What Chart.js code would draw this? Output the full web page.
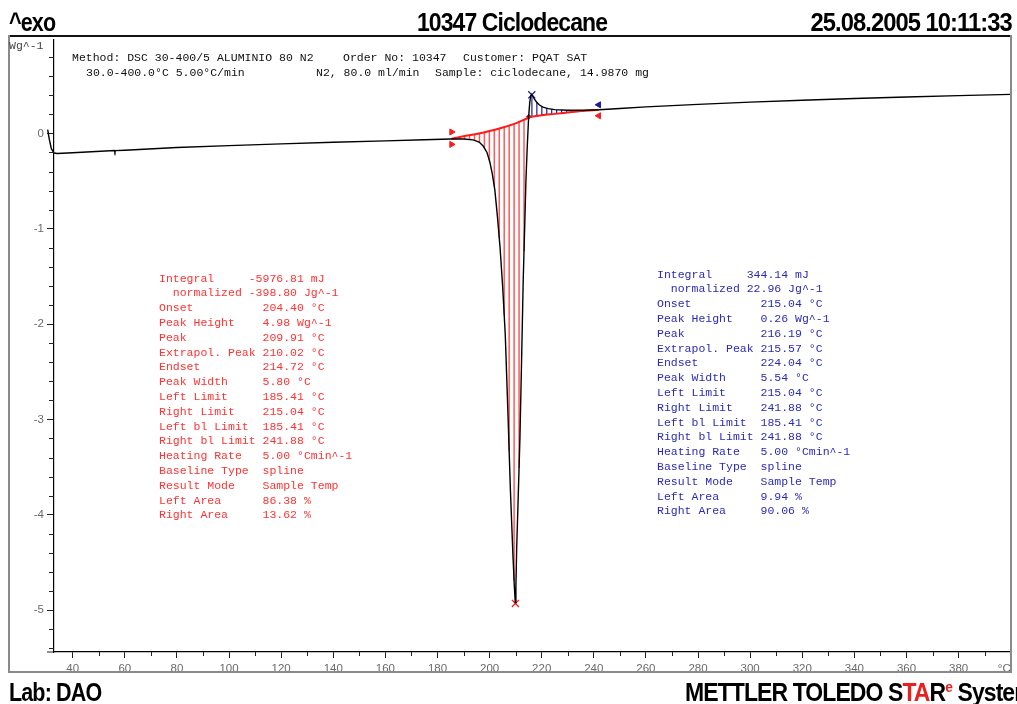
<!DOCTYPE html>
<html>
<head>
<meta charset="utf-8">
<title>10347 Ciclodecane</title>
<script src="https://cdn.jsdelivr.net/npm/chart.js@4.4.1/dist/chart.umd.min.js"></script>
<style>
  body { margin: 0; background: #fff; width: 1017px; height: 704px; overflow: hidden; position: relative; font-family: "Liberation Sans", Arial, sans-serif; }
  #dsc { position: absolute; left: 0; top: 0; }
  .big { position: absolute; font-weight: bold; font-size: 25px; line-height: 25px; letter-spacing: -1px; white-space: nowrap; color: #000; }
  .mono { position: absolute; font-family: "Liberation Mono", "Courier New", monospace; font-size: 11.5px; line-height: 15px; white-space: pre; color: #111; }
  .res { line-height: 14.8px; }
  .line { position: absolute; }
</style>
</head>
<body>
<canvas id="dsc" width="1017" height="704"></canvas>

<!-- cadre -->
<div class="line" style="left:8px; top:35px; width:1004px; height:2px; background:#111;"></div>
<div class="line" style="left:8px; top:35px; width:2px; height:638px; background:#8a8a8a;"></div>
<div class="line" style="left:8px; top:671px; width:1004px; height:2px; background:#8a8a8a;"></div>
<div class="line" style="left:1010px; top:35px; width:2px; height:638px; background:#8a8a8a;"></div>

<!-- en-tete -->
<div class="big" style="left:9px; top:10px; transform:scaleX(0.86); transform-origin:left;">^exo</div>
<div class="big" style="left:512px; top:10px; transform:translateX(-50%) scaleX(0.92);">10347 Ciclodecane</div>
<div class="big" style="right:5px; top:10px; transform:scaleX(0.95); transform-origin:right;">25.08.2005 10:11:33</div>
<div class="mono" style="left:9px; top:38px; color:#444;">Wg^-1</div>

<div class="mono" style="left:72px; top:50px;">Method: DSC 30-400/5 ALUMINIO 80 N2</div>
<div class="mono" style="left:343px; top:50px;">Order No: 10347</div>
<div class="mono" style="left:463px; top:50px;">Customer: PQAT SAT</div>
<div class="mono" style="left:86px; top:65px;">30.0-400.0°C 5.00°C/min</div>
<div class="mono" style="left:316px; top:65px;">N2, 80.0 ml/min</div>
<div class="mono" style="left:435px; top:65px;">Sample: ciclodecane, 14.9870 mg</div>

<!-- resultats -->
<div id="redBox" class="mono res" style="left:159px; top:271.6px; color:#ff3333;"></div>
<div id="blueBox" class="mono res" style="left:657px; top:267.6px; color:#2b2bb8;"></div>

<!-- pied de page -->
<div class="big" style="left:9px; top:680px; transform:scaleX(0.86); transform-origin:left;">Lab: DAO</div>
<div class="big" style="left:685px; top:680px; transform:scaleX(0.92); transform-origin:left;">METTLER TOLEDO S<span style="color:#e8201e">TA</span>R<sup style="color:#e8201e; font-size:15px; line-height:0;">e</sup> System</div>

<script>
// Debut de la mesure (crochet a gauche de l'axe), du plus chaud au plus froid
const startT = [32.82, 31.8, 31.0, 30.4];
const startV = [-0.205, -0.16, -0.06, 0.04];

// Courbe DSC (temperature en °C, flux en Wg^-1)
const temps = [32.82, 34, 40, 56.0, 56.2, 56.4, 60, 80, 100, 120, 140, 160, 175, 185, 190,
  193.7, 196, 197.6, 199, 200.1, 201, 202, 203, 204, 205, 206, 207, 208, 209, 209.5, 209.85,
  210.1, 210.4, 211, 211.65, 212.3, 212.9, 213.5, 213.95, 214.45, 215.0, 215.4, 215.75, 216.15,
  216.6, 217.2, 218, 219, 220.5, 222.5, 225, 230, 236, 242, 250, 260, 280, 300, 320, 340, 360, 380, 400];
const heatFlow = [-0.205, -0.21, -0.203, -0.18, -0.195, -0.18, -0.176, -0.148, -0.128, -0.11, -0.093, -0.078, -0.067, -0.058, -0.058,
  -0.068, -0.09, -0.135, -0.2, -0.3, -0.42, -0.59, -0.87, -1.19, -1.6, -2.1, -2.9, -3.75, -4.45, -4.75, -4.92,
  -4.75, -4.35, -3.8, -3.19, -2.35, -1.54, -0.95, -0.49, -0.14, 0.18, 0.32, 0.39, 0.41,
  0.39, 0.36, 0.33, 0.3, 0.275, 0.26, 0.25, 0.243, 0.243, 0.248, 0.262, 0.278, 0.305, 0.328, 0.348, 0.366, 0.382, 0.396, 0.41];

// Ligne de base (spline)
const baseT = [185.41, 190, 195, 200, 205, 210, 215.04, 220, 225, 230, 235, 241.88];
const baseV = [-0.055, -0.03, -0.005, 0.025, 0.062, 0.105, 0.165, 0.19, 0.205, 0.22, 0.235, 0.248];

// Limites d'integration et pics
const redRange = [185.41, 215.04];
const blueRange = [215.04, 241.88];
const peakT = [209.91, 216.19];
const peakV = [-4.93, 0.405];

// Resultats
const resultLabels = ['Integral', '  normalized', 'Onset', 'Peak Height', 'Peak', 'Extrapol. Peak', 'Endset',
  'Peak Width', 'Left Limit', 'Right Limit', 'Left bl Limit', 'Right bl Limit', 'Heating Rate',
  'Baseline Type', 'Result Mode', 'Left Area', 'Right Area'];
const redResults = ['-5976.81 mJ', '-398.80 Jg^-1', '204.40 °C', '4.98 Wg^-1', '209.91 °C', '210.02 °C', '214.72 °C',
  '5.80 °C', '185.41 °C', '215.04 °C', '185.41 °C', '241.88 °C', '5.00 °Cmin^-1', 'spline', 'Sample Temp', '86.38 %', '13.62 %'];
const blueResults = ['344.14 mJ', '22.96 Jg^-1', '215.04 °C', '0.26 Wg^-1', '216.19 °C', '215.57 °C', '224.04 °C',
  '5.54 °C', '215.04 °C', '241.88 °C', '185.41 °C', '241.88 °C', '5.00 °Cmin^-1', 'spline', 'Sample Temp', '9.94 %', '90.06 %'];

function resultText(values) {
  return resultLabels.map((l, i) => l.padEnd(i < 2 ? 13 : 15) + values[i]).join('\n');
}
document.getElementById('redBox').textContent = resultText(redResults);
document.getElementById('blueBox').textContent = resultText(blueResults);

function interp(xs, ys, t) {
  for (let i = 1; i < xs.length; i++) {
    if (t <= xs[i]) {
      const f = (t - xs[i - 1]) / (xs[i] - xs[i - 1]);
      return ys[i - 1] + f * (ys[i] - ys[i - 1]);
    }
  }
  return ys[ys.length - 1];
}

// Hachures entre courbe et ligne de base + petites graduations
const hatchPlugin = {
  id: 'hatch',
  beforeDatasetsDraw(chart) {
    const { ctx, scales: { x, y } } = chart;
    const zones = [
      { range: redRange, color: 'rgba(255,70,70,0.9)', width: 1.5 },
      { range: blueRange, color: '#1c1c9c', width: 1.2 }
    ];
    ctx.save();
    zones.forEach(z => {
      ctx.strokeStyle = z.color;
      ctx.lineWidth = z.width;
      for (let t = z.range[0] + 1.2; t < z.range[1] - 0.3; t += 1.9) {
        const px = x.getPixelForValue(t);
        ctx.beginPath();
        ctx.moveTo(px, y.getPixelForValue(interp(baseT, baseV, t)));
        ctx.lineTo(px, y.getPixelForValue(interp(temps, heatFlow, t)));
        ctx.stroke();
      }
    });
    ctx.restore();
  },
  afterDraw(chart) {
    const { ctx, chartArea, scales: { x, y } } = chart;
    ctx.save();
    ctx.strokeStyle = '#222';
    ctx.lineWidth = 1;
    for (let k = Math.ceil(y.min * 5); k <= Math.floor(y.max * 5); k++) {
      if (k % 5 === 0) continue;
      const py = Math.round(y.getPixelForValue(k / 5)) + 0.5;
      ctx.beginPath(); ctx.moveTo(chartArea.left - 5, py); ctx.lineTo(chartArea.left, py); ctx.stroke();
    }
    for (let k = Math.ceil(x.min / 10); k <= Math.floor(x.max / 10); k++) {
      if (k % 2 === 0) continue;
      const px = Math.round(x.getPixelForValue(k * 10)) + 0.5;
      ctx.beginPath(); ctx.moveTo(px, chartArea.bottom); ctx.lineTo(px, chartArea.bottom + 4); ctx.stroke();
    }
    // prolongement de l'axe x a gauche
    ctx.beginPath(); ctx.moveTo(chartArea.left - 7, chartArea.bottom); ctx.lineTo(chartArea.left, chartArea.bottom); ctx.stroke();
    ctx.restore();
  }
};

const pts = (xs, ys) => xs.map((t, i) => ({ x: t, y: ys[i] }));

const tickFont = { family: 'Liberation Sans', size: 11.5 };

new Chart(document.getElementById('dsc'), {
  type: 'scatter',
  data: {
    datasets: [
      {
        data: pts(startT, startV),
        showLine: true, borderColor: '#000', borderWidth: 1.4, pointRadius: 0, tension: 0, clip: false
      },
      {
        data: pts(temps, heatFlow),
        showLine: true, borderColor: '#000', borderWidth: 1.4, pointRadius: 0, tension: 0
      },
      {
        data: pts(baseT, baseV),
        showLine: true, borderColor: '#ff1a1a', borderWidth: 2, pointRadius: 0, tension: 0.3
      },
      {
        data: [{ x: redRange[0], y: 0.015 }, { x: redRange[0], y: -0.115 }],
        pointStyle: 'triangle', rotation: 90, pointRadius: 3.5, backgroundColor: '#ff1a1a', borderColor: '#ff1a1a'
      },
      {
        data: [{ x: blueRange[1], y: 0.185 }],
        pointStyle: 'triangle', rotation: -90, pointRadius: 3.5, backgroundColor: '#ff1a1a', borderColor: '#ff1a1a'
      },
      {
        data: [{ x: blueRange[1], y: 0.3 }],
        pointStyle: 'triangle', rotation: -90, pointRadius: 3.5, backgroundColor: '#1c1c9c', borderColor: '#1c1c9c'
      },
      {
        data: [{ x: redRange[1], y: 0.175 }],
        pointStyle: 'rectRot', pointRadius: 2.5, backgroundColor: '#1c1c9c', borderColor: '#ff1a1a'
      },
      {
        data: [{ x: peakT[0], y: peakV[0] }],
        pointStyle: 'crossRot', pointRadius: 5, borderColor: '#ff1a1a', borderWidth: 1.3
      },
      {
        data: [{ x: peakT[1], y: peakV[1] }],
        pointStyle: 'crossRot', pointRadius: 5, borderColor: '#1c1c9c', borderWidth: 1.3
      }
    ]
  },
  options: {
    responsive: false,
    animation: false,
    events: [],
    layout: { padding: { left: 10, top: 40, right: 6, bottom: 22 } },
    plugins: { legend: { display: false }, tooltip: { enabled: false } },
    scales: {
      x: {
        type: 'linear', min: 32.82, max: 400,
        afterFit(s) { s.height = 30; s.paddingLeft = 0; s.paddingRight = 0; },
        border: { display: true, color: '#000', width: 1.2 },
        grid: { display: true, drawOnChartArea: false, tickLength: 6, tickColor: '#222' },
        ticks: {
          stepSize: 20, includeBounds: false, maxRotation: 0, autoSkip: false, padding: 4,
          color: '#6a6a6a', font: tickFont,
          callback: v => v === 400 ? '°C    ' : v
        }
      },
      y: {
        type: 'linear', min: -5.44, max: 0.98,
        afterFit(s) { s.width = 44; s.paddingTop = 0; s.paddingBottom = 0; },
        border: { display: true, color: '#000', width: 1.2 },
        grid: { display: true, drawOnChartArea: false, tickLength: 7, tickColor: '#222' },
        ticks: {
          stepSize: 1, includeBounds: false, padding: 3,
          color: '#6a6a6a', font: tickFont
        }
      }
    }
  },
  plugins: [hatchPlugin]
});
</script>
</body>
</html>
